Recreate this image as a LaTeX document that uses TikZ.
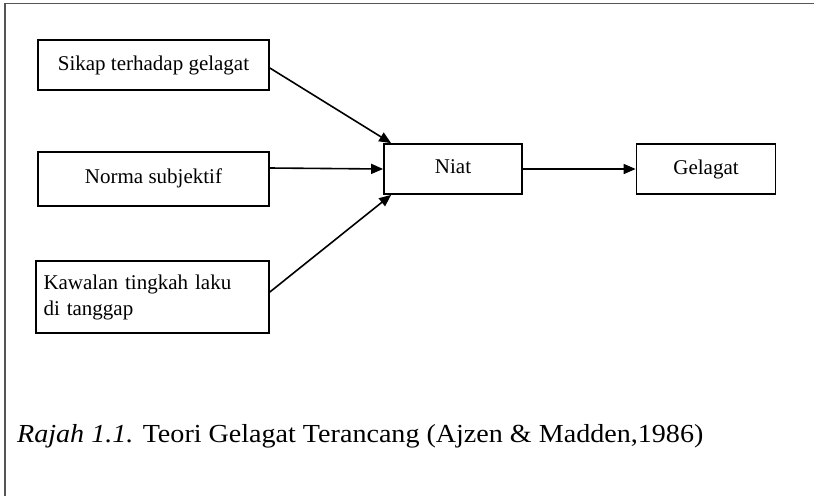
\documentclass[tikz,border=0pt]{standalone}
\usepackage{fontspec}
\setmainfont{Liberation Serif}
\usetikzlibrary{arrows.meta}
\definecolor{framegray}{HTML}{555555}
\tikzset{
  boxnode/.style={draw=black, line width=1.7pt, inner sep=0pt, font=\fontsize{21}{26}\selectfont},
  conn/.style={line width=1.6pt, -{Triangle[length=12pt,width=10pt]}},
}
\begin{document}
\begin{tikzpicture}[x=1pt,y=-1pt]
\useasboundingbox (0,0) rectangle (814,496);
\draw[framegray, line width=1.8pt] (5,496) -- (5,3.5) -- (814,3.5);
\node[boxnode, minimum width=231pt, minimum height=50pt] (sikap) at (153.5,65) {\raisebox{3pt}{Sikap terhadap gelagat}};
\node[boxnode, minimum width=231pt, minimum height=54pt] (norma) at (153.5,179) {\raisebox{5pt}{Norma subjektif}};
\node[boxnode, minimum width=233pt, minimum height=72pt, text width=218pt, align=left] (kawalan) at (152.5,297) {Kawalan tingkah laku\\di tanggap};
\node[boxnode, minimum width=138pt, minimum height=50pt] (niat) at (453,169) {\raisebox{4pt}{Niat}};
\node[boxnode, minimum width=139pt, minimum height=50pt] (gelagat) at (706,169) {\raisebox{4pt}{Gelagat}};
\draw[conn] ([yshift=-3pt]sikap.east) -- ([xshift=8pt]niat.north west);
\draw[conn] ([yshift=11pt]norma.east) -- (niat.west);
\draw[conn] ([yshift=5pt]kawalan.east) -- ([xshift=8pt]niat.south west);
\draw[conn] (niat.east) -- (gelagat.west);
\node[anchor=base west, inner sep=0pt, font=\fontsize{26}{30}\selectfont] (caption) at (17,442) {\scalebox{1.08}[1]{\textit{Rajah 1.1.} Teori Gelagat Terancang (Ajzen \& Madden,1986)}};
\end{tikzpicture}
\end{document}
